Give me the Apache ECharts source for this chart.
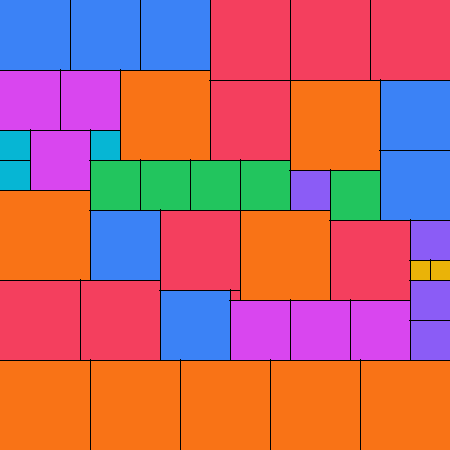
<!DOCTYPE html>
<html>
<head>
<meta charset="utf-8">
<script src="https://cdn.jsdelivr.net/npm/echarts@6/dist/echarts.min.js"></script>
<style>html,body{margin:0;padding:0;background:#fff}#c{width:450px;height:450px}</style>
</head>
<body>
<div id="c"></div>
<script>
// Partridge packing: square side lengths (grid units) and top-left positions
const squareSize = [9,9,9,9,9,9,9,9,9, 8,8,8,8,8,8,8,8, 7,7,7,7,7,7,7, 6,6,6,6,6,6, 5,5,5,5,5, 4,4,4,4, 3,3,3, 2,2, 1];
const squareX    = [12,29,0,24,0,9,18,27,36, 21,29,37,21,16,33,0,8, 0,7,14,38,38,9,16, 0,6,3,23,29,35, 9,14,19,24,33, 29,41,41,41, 0,0,9, 41,43, 23];
const squareY    = [7,8,19,21,36,36,36,36,36, 0,0,0,8,21,22,28,28, 0,0,0,8,15,21,29, 7,7,13,30,30,30, 16,16,16,16,17, 17,22,28,32, 13,16,13, 26,26, 29];
const axisMax = 45;

const sizeColors = {1:'#F43F5E',2:'#EAB308',3:'#06B6D4',4:'#8B5CF6',5:'#22C55E',6:'#D946EF',7:'#3B82F6',8:'#F43F5E',9:'#F97316'};

const data = squareSize.map((s, i) => [squareX[i], squareY[i], s]);

const chart = echarts.init(document.getElementById('c'), null, {renderer: 'canvas'});
chart.setOption({
  animation: false,
  grid: {left: 0, right: 0, top: 0, bottom: 0},
  xAxis: {type: 'value', min: 0, max: axisMax, show: false},
  yAxis: {type: 'value', min: 0, max: axisMax, inverse: true, show: false},
  series: [{
    type: 'custom',
    silent: true,
    data: data,
    encode: {x: 0, y: 1},
    renderItem: function (params, api) {
      const x = api.value(0), y = api.value(1), s = api.value(2);
      const p = api.coord([x, y]);
      const q = api.coord([x + s, y + s]);
      const w = q[0] - p[0], h = q[1] - p[1];
      const R = q[0] + 0.5, B = q[1] + 0.5;
      return {
        type: 'group',
        children: [
          {type: 'rect', z2: 0, shape: {x: p[0], y: p[1], width: w, height: h},
           style: {fill: sizeColors[s]}},
          {type: 'polyline', z2: 10,
           shape: {points: [[R, p[1] - 0.5], [R, B], [p[0] - 0.5, B]]},
           style: {stroke: '#000', lineWidth: 1, fill: null, lineCap: 'square'}}
        ]
      };
    }
  }]
});
</script>
</body>
</html>
